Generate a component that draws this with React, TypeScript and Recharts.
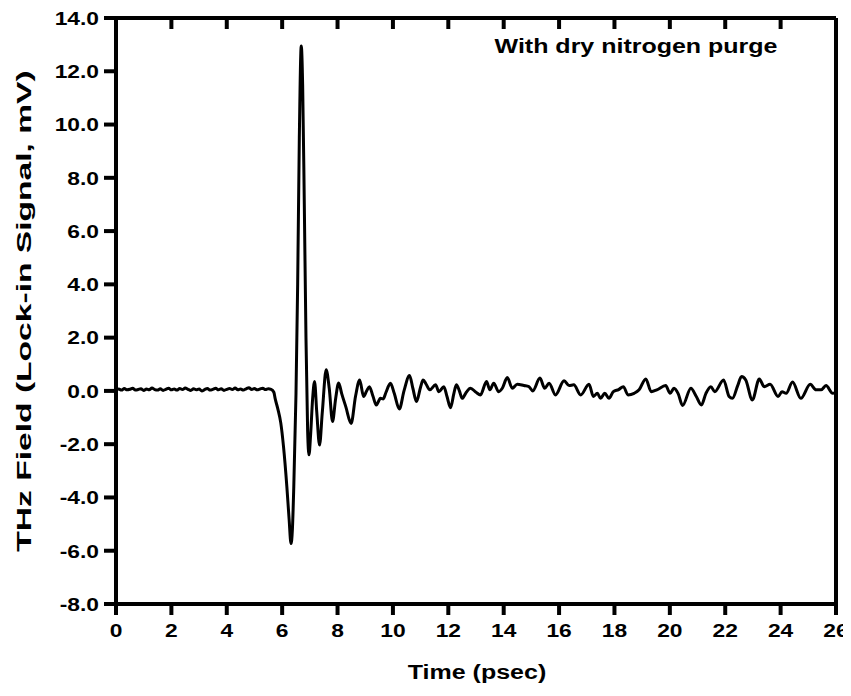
import React from "react";
import { LineChart, Line, XAxis, YAxis } from "recharts";

// THz time-domain waveform
const TIME = [
  0, 0.1, 0.2, 0.3, 0.4, 0.5, 0.6, 0.7, 0.8, 0.9, 1.0, 1.1, 1.2, 1.3, 1.4, 1.5, 1.6, 1.7, 1.8, 1.9,
  2.0, 2.1, 2.2, 2.3, 2.4, 2.5, 2.6, 2.7, 2.8, 2.9, 3.0, 3.1, 3.2, 3.3, 3.4, 3.5, 3.6, 3.7, 3.8, 3.9,
  4.0, 4.1, 4.2, 4.3, 4.4, 4.5, 4.6, 4.7, 4.8, 4.9, 5.0, 5.1, 5.2, 5.3, 5.4, 5.5, 5.6,
  5.7, 5.75, 5.85, 5.95, 6.05, 6.17, 6.25, 6.32, 6.37, 6.42, 6.5, 6.56, 6.62, 6.69, 6.74, 6.8, 6.86,
  6.92, 6.97, 7.03, 7.1, 7.17, 7.25, 7.35, 7.45, 7.59, 7.7, 7.82, 7.93, 8.04, 8.15, 8.3, 8.49, 8.65,
  8.8, 8.94, 9.05, 9.15, 9.28, 9.4, 9.55, 9.65, 9.75, 9.91, 10.05, 10.23, 10.4, 10.6, 10.72, 10.85,
  11.0, 11.09, 11.2, 11.33, 11.54, 11.66, 11.84, 11.95, 12.08, 12.2, 12.29, 12.4, 12.5, 12.65, 12.8,
  13.0, 13.16, 13.38, 13.5, 13.64, 13.82, 13.95, 14.13, 14.31, 14.49, 14.73, 14.91, 15.05, 15.31,
  15.48, 15.64, 15.87, 16.18, 16.36, 16.53, 16.78, 17.08, 17.24, 17.38, 17.5, 17.65, 17.8, 17.96,
  18.15, 18.32, 18.49, 18.71, 18.89, 19.13, 19.33, 19.53, 19.85, 20.01, 20.15, 20.3, 20.46, 20.76,
  20.95, 21.14, 21.3, 21.48, 21.62, 21.94, 22.14, 22.26, 22.45, 22.59, 22.74, 22.98, 23.23, 23.41,
  23.62, 23.91, 24.05, 24.2, 24.43, 24.73, 25.07, 25.28, 25.46, 25.64, 25.88, 26.0,
];

const SIGNAL = [
  0.02, 0.07, 0.03, 0.09, 0.04, 0.06, 0.1, 0.03, 0.05, 0.08, 0.02, 0.07, 0.04, 0.11, 0.05, 0.03, 0.08,
  0.02, 0.06, 0.1, 0.04, 0.07, 0.03, 0.09, 0.05, 0.11, 0.06, 0.02, 0.08, 0.04, 0.07, 0.0, 0.05, 0.09,
  0.03, 0.06, 0.1, 0.04, 0.08, 0.02, 0.06, 0.09, 0.05, 0.11, 0.04, 0.07, 0.03, 0.08, 0.12, 0.05, 0.09,
  0.04, 0.07, 0.1, 0.05, 0.08, 0.06,
  -0.05, -0.3, -0.7, -1.2, -2.1, -3.6, -4.8, -5.73, -5.2, -3.6, -0.1, 4.0, 9.5, 12.95, 11.5, 7.0, 2.0,
  -1.5, -2.4, -1.6, -0.3, 0.35, -0.8, -2.03, -0.8, 0.79, 0.1, -1.15, -0.3, 0.3, -0.1, -0.6, -1.22, -0.2,
  0.41, -0.21, 0.0, 0.16, -0.2, -0.53, -0.28, -0.3, -0.05, 0.29, -0.1, -0.68, 0.0, 0.58, 0.1, -0.4,
  0.15, 0.41, 0.25, 0.04, 0.23, -0.03, 0.16, -0.2, -0.63, -0.1, 0.23, 0.0, -0.28, -0.05, 0.1,
  -0.05, -0.15, 0.35, 0.04, 0.29, -0.03, 0.1, 0.5, 0.1, 0.25, 0.2, 0.16, 0.0, 0.48,
  0.1, 0.29, -0.15, 0.38, 0.2, 0.23, -0.15, 0.25, -0.21, -0.09, -0.28, -0.09, -0.28, -0.03,
  0.05, 0.16, -0.15, -0.09, 0.04, 0.45, -0.03, 0.04, 0.2, -0.09, 0.1, -0.1, -0.55, 0.1,
  -0.2, -0.53, -0.1, 0.16, -0.03, 0.41, -0.21, -0.28, 0.2, 0.54, 0.41, -0.34, 0.45, 0.16,
  0.25, -0.21, -0.03, -0.09, 0.33, -0.28, 0.25, 0.04, 0.04, 0.2, -0.09, -0.05,
];

const X_TICKS = [0, 2, 4, 6, 8, 10, 12, 14, 16, 18, 20, 22, 24, 26];
const Y_TICKS = [-8, -6, -4, -2, 0, 2, 4, 6, 8, 10, 12, 14];

const FONT = "'Liberation Sans', Arial, Helvetica, sans-serif";

// text is a bit wider than plain Arial in the original, so stretch it horizontally
function XTick(props: any) {
  const { x, y, payload } = props;
  return (
    <text
      transform={`translate(${x},${y + 7}) scale(1.2,1)`}
      textAnchor="middle"
      dy="0.71em"
      fontSize={19}
      fontWeight={700}
      fontFamily={FONT}
      fill="#000"
    >
      {payload.value}
    </text>
  );
}

function YTick(props: any) {
  const { x, y, payload } = props;
  return (
    <text
      transform={`translate(${x - 3},${y}) scale(1.2,1)`}
      textAnchor="end"
      dy="0.36em"
      fontSize={19}
      fontWeight={700}
      fontFamily={FONT}
      fill="#000"
    >
      {Number(payload.value).toFixed(1)}
    </text>
  );
}

// top and right frame axes: tick marks only, no labels
function NoLabel() {
  return <g />;
}

const xTitle = () => (
  <text transform="translate(469,671) scale(1.25,1)" textAnchor="middle" fontSize={20} fontWeight={700} fontFamily={FONT} fill="#000">
    Time (psec)
  </text>
);

const yTitle = () => (
  <text transform="translate(23,303) rotate(-90) scale(1.6,1)" textAnchor="middle" fontSize={21} fontWeight={700} fontFamily={FONT} fill="#000">
    THz Field (Lock-in Signal, mV)
  </text>
);

const note = () => (
  <text transform="translate(628,45) scale(1.25,1)" textAnchor="middle" fontSize={20} fontWeight={700} fontFamily={FONT} fill="#000">
    With dry nitrogen purge
  </text>
);

export default function App() {
  const data = TIME.map((t, i) => ({ t, v: SIGNAL[i] }));

  return (
    <div style={{ width: 843, height: 688 }}>
      <LineChart width={843} height={688} data={data} margin={{ top: 10, right: 15, left: 0, bottom: 0 }}>
        <XAxis
          xAxisId="b"
          dataKey="t"
          type="number"
          domain={[0, 26]}
          ticks={X_TICKS}
          height={92}
          tickSize={11}
          stroke="#000"
          strokeWidth={4}
          axisLine={{ stroke: "#000", strokeWidth: 4 }}
          tickLine={{ stroke: "#000", strokeWidth: 4 }}
          tick={<XTick />}
          label={{ content: xTitle }}
        />
        <XAxis
          xAxisId="t"
          orientation="top"
          dataKey="t"
          type="number"
          domain={[0, 26]}
          ticks={X_TICKS}
          mirror
          height={1}
          tickSize={11}
          stroke="#000"
          strokeWidth={4}
          axisLine={{ stroke: "#000", strokeWidth: 4 }}
          tickLine={{ stroke: "#000", strokeWidth: 4 }}
          tick={<NoLabel />}
          label={{ content: note }}
        />
        <YAxis
          yAxisId="l"
          type="number"
          domain={[-8, 14]}
          ticks={Y_TICKS}
          width={108}
          tickSize={12}
          stroke="#000"
          strokeWidth={4}
          axisLine={{ stroke: "#000", strokeWidth: 4 }}
          tickLine={{ stroke: "#000", strokeWidth: 4 }}
          tick={<YTick />}
          label={{ content: yTitle }}
        />
        <YAxis
          yAxisId="r"
          orientation="right"
          type="number"
          domain={[-8, 14]}
          ticks={Y_TICKS}
          mirror
          width={1}
          tickSize={10}
          stroke="#000"
          strokeWidth={4}
          axisLine={{ stroke: "#000", strokeWidth: 4 }}
          tickLine={{ stroke: "#000", strokeWidth: 4 }}
          tick={<NoLabel />}
        />
        <Line
          xAxisId="b"
          yAxisId="l"
          dataKey="v"
          type="monotone"
          stroke="#000"
          strokeWidth={3}
          dot={false}
          isAnimationActive={false}
        />
      </LineChart>
    </div>
  );
}
